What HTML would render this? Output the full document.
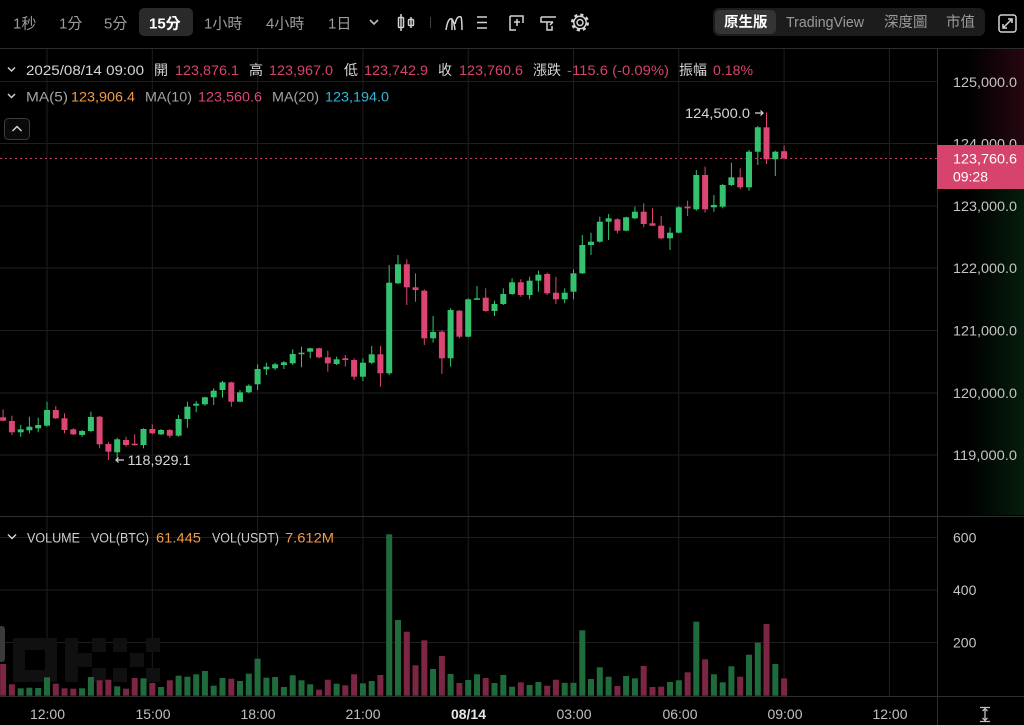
<!DOCTYPE html>
<html><head><meta charset="utf-8"><style>
html,body{margin:0;padding:0;background:#000;width:1024px;height:725px;overflow:hidden}
svg{display:block}
text{font-family:"Liberation Sans","Noto Sans CJK TC",sans-serif}
</style></head><body>
<svg width="1024" height="725" viewBox="0 0 1024 725" xmlns="http://www.w3.org/2000/svg">
<defs>
<linearGradient id="gr" x1="0" y1="0" x2="1" y2="0"><stop offset="0.35" stop-color="#2a0812" stop-opacity="0"/><stop offset="1" stop-color="#2a0812" stop-opacity="0.9"/></linearGradient>
<linearGradient id="gg" x1="0" y1="0" x2="1" y2="0"><stop offset="0.35" stop-color="#06200e" stop-opacity="0"/><stop offset="1" stop-color="#06200e" stop-opacity="0.9"/></linearGradient>
</defs>
<rect width="1024" height="725" fill="#000"/>
<rect x="937" y="49" width="87" height="96" fill="url(#gr)"/>
<rect x="937" y="189" width="87" height="326" fill="url(#gg)"/>

<!-- toolbar -->
<rect x="139" y="8" width="54" height="28" rx="5" fill="#2a2a2a"/>
<g font-size="15" fill="#9c9c9c">
<text x="13" y="28.5">1秒</text>
<text x="59" y="28.5">1分</text>
<text x="104" y="28.5">5分</text>
<text x="149" y="28.5" fill="#fff" font-weight="bold">15分</text>
<text x="204" y="28.5">1小時</text>
<text x="266" y="28.5">4小時</text>
<text x="328" y="28.5">1日</text>
</g>
<path d="M370 20 L374 24 L378 20" stroke="#bbb" stroke-width="1.6" fill="none"/>
<g stroke="#d4d4d4" stroke-width="1.5" fill="none">
<line x1="401" y1="14" x2="401" y2="31"/><rect x="398.5" y="17.5" width="5" height="10" rx="1"/>
<line x1="411" y1="17" x2="411" y2="28"/><rect x="408.5" y="19.5" width="5" height="6" rx="1"/>
<path d="M446 30 Q448 17 452 19 Q454 21 455 30 M455 24 Q457 15 461 17 Q462 20 462 30 M452 19 L452 30"/>
<path d="M477 17 H487 M477 22.5 H487 M477 28 H487"/>
<path d="M510 16 H523 V23 M510 16 V30 H516 M514 22 H520 M517 19 V26"/>
<path d="M541 17 H556 M541 17 V22 H553 M553 22 L550 25 M547 22 V30 H552 V26"/>
<circle cx="580" cy="22.5" r="3"/>
<circle cx="580" cy="22.5" r="7.5" stroke-dasharray="3 2.9" stroke-width="3"/>
<circle cx="580" cy="22.5" r="6.2"/>
</g>
<line x1="430.5" y1="17" x2="430.5" y2="28" stroke="#444"/>
<rect x="713" y="8" width="272" height="28" rx="6" fill="#1c1c1c"/>
<rect x="715" y="10" width="61" height="24" rx="5" fill="#343434"/>
<g font-size="14.5" fill="#9a9a9a">
<text x="724" y="27" fill="#fff" font-weight="bold">原生版</text>
<text x="786" y="27" textLength="78" lengthAdjust="spacingAndGlyphs">TradingView</text>
<text x="884" y="27">深度圖</text>
<text x="946" y="27">市值</text>
</g>
<g stroke="#d4d4d4" stroke-width="1.5" fill="none">
<rect x="999" y="15" width="17" height="17" rx="2.5"/>
<path d="M1003 28 L1012 19 M1008 19 H1012 V23 M1003 24 V28 H1007"/>
</g>
<line x1="0" y1="48.5" x2="1024" y2="48.5" stroke="#2c2c2c"/>

<!-- grid -->
<g stroke="#1f1f1f" stroke-width="1">
<line x1="47" y1="49" x2="47" y2="696"/>
<line x1="152.3" y1="49" x2="152.3" y2="696"/>
<line x1="257.6" y1="49" x2="257.6" y2="696"/>
<line x1="362.9" y1="49" x2="362.9" y2="696"/>
<line x1="468.2" y1="49" x2="468.2" y2="696"/>
<line x1="573.5" y1="49" x2="573.5" y2="696"/>
<line x1="678.8" y1="49" x2="678.8" y2="696"/>
<line x1="784.1" y1="49" x2="784.1" y2="696"/>
<line x1="889.4" y1="49" x2="889.4" y2="696"/>
<line x1="0" y1="81.5" x2="937" y2="81.5"/>
<line x1="0" y1="143.5" x2="937" y2="143.5"/>
<line x1="0" y1="206" x2="937" y2="206"/>
<line x1="0" y1="268" x2="937" y2="268"/>
<line x1="0" y1="330.5" x2="937" y2="330.5"/>
<line x1="0" y1="393" x2="937" y2="393"/>
<line x1="0" y1="455" x2="937" y2="455"/>
<line x1="0" y1="537.5" x2="937" y2="537.5"/>
<line x1="0" y1="590" x2="937" y2="590"/>
<line x1="0" y1="642.5" x2="937" y2="642.5"/>
</g>
<g stroke="#2e2e2e" stroke-width="1">
<line x1="937.5" y1="49" x2="937.5" y2="725"/>
<line x1="0" y1="516.5" x2="1024" y2="516.5"/>
<line x1="0" y1="696.5" x2="1024" y2="696.5"/>
</g>

<!-- watermark -->
<g fill="#101010">
<path d="M13 638 H57 V682 H13 Z M25 650 V670 H45 V650 Z" fill-rule="evenodd"/>
<rect x="65" y="638" width="13" height="44"/><rect x="92" y="638" width="14" height="14"/><rect x="78" y="653" width="14" height="14"/><rect x="92" y="668" width="14" height="14"/>
<rect x="113" y="638" width="14" height="14"/><rect x="146" y="638" width="14" height="14"/><rect x="130" y="653" width="14" height="14"/><rect x="113" y="668" width="14" height="14"/><rect x="146" y="668" width="14" height="14"/>
</g>
<rect x="-5" y="626" width="10" height="36" rx="3" fill="#3a3a3a"/>

<!-- info rows -->
<g stroke="#cfcfcf" stroke-width="1.5" fill="none">
<path d="M8 67.5 L11.5 71 L15 67.5"/>
<path d="M8 94 L11.5 97.5 L15 94"/>
<path d="M8 534.5 L12 538.5 L16 534.5"/>
</g>
<g font-size="14" fill="#d6d6d6" lengthAdjust="spacingAndGlyphs">
<text x="26" y="75" textLength="118" lengthAdjust="spacingAndGlyphs">2025/08/14 09:00</text>
<text x="154" y="75">開</text><text x="175" y="75" fill="#d8436b" textLength="64" lengthAdjust="spacingAndGlyphs">123,876.1</text>
<text x="249" y="75">高</text><text x="269" y="75" fill="#d8436b" textLength="64" lengthAdjust="spacingAndGlyphs">123,967.0</text>
<text x="344" y="75">低</text><text x="364" y="75" fill="#d8436b" textLength="64" lengthAdjust="spacingAndGlyphs">123,742.9</text>
<text x="438" y="75">收</text><text x="459" y="75" fill="#d8436b" textLength="64" lengthAdjust="spacingAndGlyphs">123,760.6</text>
<text x="533" y="75">漲跌</text><text x="567" y="75" fill="#d8436b" textLength="102" lengthAdjust="spacingAndGlyphs">-115.6 (-0.09%)</text>
<text x="679" y="75">振幅</text><text x="713" y="75" fill="#d8436b" textLength="40" lengthAdjust="spacingAndGlyphs">0.18%</text>
</g>
<g font-size="14" fill="#a4a4a4">
<text x="26" y="101.5" textLength="42" lengthAdjust="spacingAndGlyphs">MA(5)</text><text x="71" y="101.5" fill="#f19a48" textLength="64" lengthAdjust="spacingAndGlyphs">123,906.4</text>
<text x="145" y="101.5" textLength="47" lengthAdjust="spacingAndGlyphs">MA(10)</text><text x="198" y="101.5" fill="#e0457a" textLength="64" lengthAdjust="spacingAndGlyphs">123,560.6</text>
<text x="272" y="101.5" textLength="47" lengthAdjust="spacingAndGlyphs">MA(20)</text><text x="325" y="101.5" fill="#33b6d2" textLength="64" lengthAdjust="spacingAndGlyphs">123,194.0</text>
</g>
<rect x="4.5" y="118.5" width="25" height="21" rx="4" fill="#0a0a0a" stroke="#3c3c3c"/>
<path d="M12.5 131 L17 126.5 L21.5 131" stroke="#cfcfcf" stroke-width="1.5" fill="none"/>

<g font-size="13.5" fill="#cfcfcf">
<text x="27" y="542.5" textLength="53" lengthAdjust="spacingAndGlyphs">VOLUME</text>
<text x="91" y="542.5" textLength="58" lengthAdjust="spacingAndGlyphs">VOL(BTC)</text><text x="156" y="542.5" fill="#f19a48" textLength="45" lengthAdjust="spacingAndGlyphs">61.445</text>
<text x="212" y="542.5" textLength="67" lengthAdjust="spacingAndGlyphs">VOL(USDT)</text><text x="285" y="542.5" fill="#f19a48" textLength="49" lengthAdjust="spacingAndGlyphs">7.612M</text>
</g>

<!-- price axis labels -->
<g font-size="14" fill="#c4c4c4">
<text x="953" y="87" textLength="64" lengthAdjust="spacingAndGlyphs">125,000.0</text>
<text x="953" y="148.5" textLength="64" lengthAdjust="spacingAndGlyphs">124,000.0</text>
<text x="953" y="211" textLength="64" lengthAdjust="spacingAndGlyphs">123,000.0</text>
<text x="953" y="273" textLength="64" lengthAdjust="spacingAndGlyphs">122,000.0</text>
<text x="953" y="335.5" textLength="64" lengthAdjust="spacingAndGlyphs">121,000.0</text>
<text x="953" y="398" textLength="64" lengthAdjust="spacingAndGlyphs">120,000.0</text>
<text x="953" y="460" textLength="64" lengthAdjust="spacingAndGlyphs">119,000.0</text>
<text x="953" y="542.5">600</text>
<text x="953" y="595">400</text>
<text x="953" y="647.5">200</text>
</g>

<!-- time axis -->
<g font-size="14" fill="#c0c0c0" text-anchor="middle">
<text x="47.5" y="719">12:00</text>
<text x="153" y="719">15:00</text>
<text x="258" y="719">18:00</text>
<text x="363" y="719">21:00</text>
<text x="468.5" y="719" fill="#e6e6e6" font-weight="bold">08/14</text>
<text x="574" y="719">03:00</text>
<text x="680" y="719">06:00</text>
<text x="785" y="719">09:00</text>
<text x="890" y="719">12:00</text>
</g>
<g stroke="#c0c0c0" stroke-width="1.3" fill="none">
<path d="M980 707.5 H990 M980 721.5 H990 M985 708 V721 M982.5 711 L985 708.5 L987.5 711 M982.5 718 L985 720.5 L987.5 718"/>
</g>

<!-- volume bars -->
<g fill="#1f6b3b">
<rect x="17.7" y="688.3" width="6" height="7.4"/><rect x="26.4" y="687.7" width="6" height="8"/><rect x="35.2" y="688" width="6" height="7.7"/><rect x="44" y="677.3" width="6" height="18.4"/><rect x="79.1" y="688.3" width="6" height="7.4"/><rect x="87.9" y="677" width="6" height="18.7"/><rect x="114.2" y="686.3" width="6" height="9.4"/><rect x="140.5" y="678.3" width="6" height="17.4"/><rect x="158.1" y="687" width="6" height="8.7"/><rect x="175.6" y="675.7" width="6" height="20"/><rect x="184.4" y="676.7" width="6" height="19"/><rect x="193.2" y="674.3" width="6" height="21.4"/><rect x="201.9" y="671" width="6" height="24.7"/><rect x="210.7" y="685.7" width="6" height="10"/><rect x="219.5" y="678" width="6" height="17.7"/><rect x="237" y="681" width="6" height="14.7"/><rect x="245.8" y="673.7" width="6" height="22"/><rect x="254.6" y="658.7" width="6" height="37"/><rect x="263.4" y="677.7" width="6" height="18"/><rect x="272.1" y="677" width="6" height="18.7"/><rect x="280.9" y="687" width="6" height="8.7"/><rect x="289.7" y="675.3" width="6" height="20.4"/><rect x="298.5" y="680.3" width="6" height="15.4"/><rect x="307.2" y="684.3" width="6" height="11.4"/><rect x="333.6" y="683.7" width="6" height="12"/><rect x="359.9" y="683.3" width="6" height="12.4"/><rect x="368.7" y="681" width="6" height="14.7"/><rect x="386.2" y="534.3" width="6" height="161.4"/><rect x="395" y="620" width="6" height="75.7"/><rect x="430.1" y="669" width="6" height="26.7"/><rect x="447.6" y="674" width="6" height="21.7"/><rect x="465.2" y="680" width="6" height="15.7"/><rect x="474" y="674.3" width="6" height="21.4"/><rect x="491.5" y="683" width="6" height="12.7"/><rect x="500.3" y="675" width="6" height="20.7"/><rect x="509.1" y="686.7" width="6" height="9"/><rect x="526.6" y="685" width="6" height="10.7"/><rect x="535.4" y="682" width="6" height="13.7"/><rect x="561.7" y="682.8" width="6" height="12.9"/><rect x="570.5" y="682.8" width="6" height="12.9"/><rect x="579.3" y="630.3" width="6" height="65.4"/><rect x="588" y="679" width="6" height="16.7"/><rect x="596.8" y="667.3" width="6" height="28.4"/><rect x="605.6" y="676.7" width="6" height="19"/><rect x="623.1" y="676" width="6" height="19.7"/><rect x="631.9" y="678.3" width="6" height="17.4"/><rect x="667" y="682" width="6" height="13.7"/><rect x="675.8" y="680.3" width="6" height="15.4"/><rect x="693.3" y="621.7" width="6" height="74"/><rect x="710.9" y="674.3" width="6" height="21.4"/><rect x="719.7" y="682.3" width="6" height="13.4"/><rect x="728.4" y="666.3" width="6" height="29.4"/><rect x="746" y="654.7" width="6" height="41"/><rect x="754.8" y="642.7" width="6" height="53"/><rect x="772.3" y="664" width="6" height="31.7"/>
</g>
<g fill="#7b2643">
<rect x="0.1" y="664" width="6" height="31.7"/><rect x="8.9" y="684.3" width="6" height="11.4"/><rect x="52.8" y="683.7" width="6" height="12"/><rect x="61.5" y="688.3" width="6" height="7.4"/><rect x="70.3" y="688.7" width="6" height="7"/><rect x="96.6" y="680.3" width="6" height="15.4"/><rect x="105.4" y="679.7" width="6" height="16"/><rect x="123" y="688.7" width="6" height="7"/><rect x="131.7" y="678" width="6" height="17.7"/><rect x="149.3" y="683" width="6" height="12.7"/><rect x="166.8" y="680.3" width="6" height="15.4"/><rect x="228.3" y="678.7" width="6" height="17"/><rect x="316" y="689.7" width="6" height="6"/><rect x="324.8" y="679.7" width="6" height="16"/><rect x="342.3" y="685.3" width="6" height="10.4"/><rect x="351.1" y="674.3" width="6" height="21.4"/><rect x="377.4" y="675" width="6" height="20.7"/><rect x="403.8" y="631.7" width="6" height="64"/><rect x="412.5" y="665.3" width="6" height="30.4"/><rect x="421.3" y="640.3" width="6" height="55.4"/><rect x="438.9" y="656" width="6" height="39.7"/><rect x="456.4" y="683" width="6" height="12.7"/><rect x="482.7" y="678" width="6" height="17.7"/><rect x="517.8" y="682.3" width="6" height="13.4"/><rect x="544.2" y="685.7" width="6" height="10"/><rect x="552.9" y="679.7" width="6" height="16"/><rect x="614.4" y="686" width="6" height="9.7"/><rect x="640.7" y="666" width="6" height="29.7"/><rect x="649.5" y="687" width="6" height="8.7"/><rect x="658.2" y="686.7" width="6" height="9"/><rect x="684.6" y="672.3" width="6" height="23.4"/><rect x="702.1" y="659.3" width="6" height="36.4"/><rect x="737.2" y="676.7" width="6" height="19"/><rect x="763.5" y="624" width="6" height="71.7"/><rect x="781.1" y="678.3" width="6" height="17.4"/>
</g>

<line x1="0" y1="158.5" x2="937" y2="158.5" stroke="#c8405f" stroke-width="1" stroke-dasharray="2 3"/>

<!-- candles green -->
<g fill="#34c26f">
<rect x="20.2" y="425" width="1" height="11.7"/><rect x="17.7" y="429.3" width="6" height="3"/>
<rect x="28.9" y="416.7" width="1" height="16.6"/><rect x="26.4" y="426.7" width="6" height="3.6"/>
<rect x="37.7" y="417.7" width="1" height="14.6"/><rect x="35.2" y="425" width="6" height="3.3"/>
<rect x="46.5" y="401.7" width="1" height="25"/><rect x="44" y="410" width="6" height="15.7"/>
<rect x="81.6" y="430" width="1" height="6.7"/><rect x="79.1" y="431" width="6" height="4"/>
<rect x="90.4" y="411.7" width="1" height="20.6"/><rect x="87.9" y="417" width="6" height="14"/>
<rect x="116.7" y="437.7" width="1" height="21.7"/><rect x="114.2" y="439.3" width="6" height="13"/>
<rect x="143" y="428.3" width="1" height="20"/><rect x="140.5" y="429" width="6" height="16"/>
<rect x="160.6" y="429" width="1" height="6"/><rect x="158.1" y="430" width="6" height="4.3"/>
<rect x="178.1" y="415" width="1" height="21.7"/><rect x="175.6" y="419" width="6" height="16.7"/>
<rect x="186.9" y="401.7" width="1" height="26"/><rect x="184.4" y="406.7" width="6" height="12.3"/>
<rect x="195.7" y="401" width="1" height="11.3"/><rect x="193.2" y="403.7" width="6" height="2"/>
<rect x="204.4" y="396.7" width="1" height="9"/><rect x="201.9" y="397.3" width="6" height="7"/>
<rect x="213.2" y="388.3" width="1" height="16.7"/><rect x="210.7" y="390.7" width="6" height="6.6"/>
<rect x="222" y="381" width="1" height="16.7"/><rect x="219.5" y="382.3" width="6" height="7.7"/>
<rect x="239.5" y="390" width="1" height="12.3"/><rect x="237" y="392.3" width="6" height="9.4"/>
<rect x="248.3" y="384.3" width="1" height="9"/><rect x="245.8" y="385.7" width="6" height="6.6"/>
<rect x="257.1" y="364.3" width="1" height="25.7"/><rect x="254.6" y="369" width="6" height="15.3"/>
<rect x="265.9" y="362.7" width="1" height="12.3"/><rect x="263.4" y="366.7" width="6" height="2.6"/>
<rect x="274.6" y="362.7" width="1" height="7.3"/><rect x="272.1" y="364.3" width="6" height="4"/>
<rect x="283.4" y="361" width="1" height="8"/><rect x="280.9" y="362.3" width="6" height="2.7"/>
<rect x="292.2" y="349.3" width="1" height="15.7"/><rect x="289.7" y="354" width="6" height="9.3"/>
<rect x="301" y="346.7" width="1" height="20.6"/><rect x="298.5" y="352.7" width="6" height="1.5"/>
<rect x="309.7" y="347.7" width="1" height="10.6"/><rect x="307.2" y="348.3" width="6" height="3.4"/>
<rect x="336.1" y="356.7" width="1" height="8.3"/><rect x="333.6" y="359.3" width="6" height="4.7"/>
<rect x="362.4" y="358.3" width="1" height="22.7"/><rect x="359.9" y="362.7" width="6" height="14"/>
<rect x="371.2" y="346" width="1" height="18"/><rect x="368.7" y="354.3" width="6" height="8.4"/>
<rect x="388.7" y="265" width="1" height="110"/><rect x="386.2" y="282.7" width="6" height="90.6"/>
<rect x="397.5" y="255" width="1" height="29"/><rect x="395" y="264.3" width="6" height="19"/>
<rect x="432.6" y="316" width="1" height="26.7"/><rect x="430.1" y="332" width="6" height="6.3"/>
<rect x="450.1" y="308.3" width="1" height="58.4"/><rect x="447.6" y="310" width="6" height="48.3"/>
<rect x="467.7" y="298.3" width="1" height="39"/><rect x="465.2" y="299.3" width="6" height="37.4"/>
<rect x="476.5" y="286" width="1" height="14"/><rect x="474" y="298.3" width="6" height="1.5"/>
<rect x="494" y="300.7" width="1" height="15.3"/><rect x="491.5" y="304" width="6" height="7"/>
<rect x="502.8" y="288.3" width="1" height="16.7"/><rect x="500.3" y="294" width="6" height="10"/>
<rect x="511.6" y="278.3" width="1" height="16.7"/><rect x="509.1" y="282.3" width="6" height="11.7"/>
<rect x="529.1" y="276.7" width="1" height="22.6"/><rect x="526.6" y="280.7" width="6" height="14.3"/>
<rect x="537.9" y="270.7" width="1" height="21"/><rect x="535.4" y="274.7" width="6" height="6"/>
<rect x="564.2" y="288.3" width="1" height="15"/><rect x="561.7" y="292.7" width="6" height="6.6"/>
<rect x="573" y="269.3" width="1" height="30"/><rect x="570.5" y="273.3" width="6" height="18.4"/>
<rect x="581.8" y="235" width="1" height="39"/><rect x="579.3" y="245" width="6" height="28.3"/>
<rect x="590.5" y="232.7" width="1" height="22.3"/><rect x="588" y="241.7" width="6" height="3.3"/>
<rect x="599.3" y="216.7" width="1" height="26"/><rect x="596.8" y="221.7" width="6" height="20"/>
<rect x="608.1" y="214" width="1" height="26"/><rect x="605.6" y="218.3" width="6" height="3.4"/>
<rect x="625.6" y="216.7" width="1" height="14.6"/><rect x="623.1" y="217.3" width="6" height="13.4"/>
<rect x="634.4" y="206.7" width="1" height="12.6"/><rect x="631.9" y="211.7" width="6" height="6.6"/>
<rect x="669.5" y="227.3" width="1" height="22.7"/><rect x="667" y="232.7" width="6" height="5.6"/>
<rect x="678.3" y="206" width="1" height="27.3"/><rect x="675.8" y="207.3" width="6" height="25.4"/>
<rect x="695.8" y="170" width="1" height="40.7"/><rect x="693.3" y="175" width="6" height="34.3"/>
<rect x="713.4" y="195" width="1" height="16.7"/><rect x="710.9" y="205" width="6" height="2.3"/>
<rect x="722.2" y="184" width="1" height="24.3"/><rect x="719.7" y="185" width="6" height="21.7"/>
<rect x="730.9" y="162.7" width="1" height="23.3"/><rect x="728.4" y="177.3" width="6" height="7.7"/>
<rect x="748.5" y="150" width="1" height="40.7"/><rect x="746" y="151.7" width="6" height="35.6"/>
<rect x="757.3" y="126" width="1" height="39"/><rect x="754.8" y="127.3" width="6" height="24.4"/>
<rect x="774.8" y="150.7" width="1" height="25.3"/><rect x="772.3" y="151.7" width="6" height="7.6"/>
</g>
<!-- candles red -->
<g fill="#dd4673">
<rect x="2.6" y="409.3" width="1" height="11.7"/><rect x="0.1" y="417.3" width="6" height="3.4"/>
<rect x="11.4" y="415.7" width="1" height="19.3"/><rect x="8.9" y="421" width="6" height="11.3"/>
<rect x="55.3" y="406" width="1" height="13"/><rect x="52.8" y="410" width="6" height="8.3"/>
<rect x="64" y="413.3" width="1" height="20"/><rect x="61.5" y="418.3" width="6" height="11.7"/>
<rect x="72.8" y="428.3" width="1" height="6.7"/><rect x="70.3" y="429.3" width="6" height="5"/>
<rect x="99.1" y="416" width="1" height="32.3"/><rect x="96.6" y="416.7" width="6" height="27.6"/>
<rect x="107.9" y="441.7" width="1" height="18.3"/><rect x="105.4" y="444" width="6" height="7.7"/>
<rect x="125.5" y="436.7" width="1" height="10"/><rect x="123" y="440" width="6" height="5"/>
<rect x="134.2" y="434.3" width="1" height="11.2"/><rect x="131.7" y="443.7" width="6" height="1.5"/>
<rect x="151.8" y="424.3" width="1" height="10"/><rect x="149.3" y="429" width="6" height="4.3"/>
<rect x="169.3" y="429" width="1" height="8.7"/><rect x="166.8" y="430" width="6" height="5.7"/>
<rect x="230.8" y="381.7" width="1" height="25"/><rect x="228.3" y="382.3" width="6" height="19.4"/>
<rect x="318.5" y="347.7" width="1" height="10.6"/><rect x="316" y="348.3" width="6" height="9"/>
<rect x="327.3" y="350.7" width="1" height="21"/><rect x="324.8" y="357.3" width="6" height="6"/>
<rect x="344.8" y="355" width="1" height="11.7"/><rect x="342.3" y="358.3" width="6" height="1.7"/>
<rect x="353.6" y="358.3" width="1" height="21.7"/><rect x="351.1" y="360" width="6" height="16.7"/>
<rect x="379.9" y="346" width="1" height="40.7"/><rect x="377.4" y="354.3" width="6" height="19"/>
<rect x="406.3" y="259.3" width="1" height="45.7"/><rect x="403.8" y="264.3" width="6" height="23"/>
<rect x="415" y="273.3" width="1" height="28.4"/><rect x="412.5" y="287.3" width="6" height="2.7"/>
<rect x="423.8" y="289.3" width="1" height="55.7"/><rect x="421.3" y="290.7" width="6" height="47.6"/>
<rect x="441.4" y="330" width="1" height="44"/><rect x="438.9" y="331.7" width="6" height="26.6"/>
<rect x="458.9" y="310" width="1" height="28.3"/><rect x="456.4" y="310.7" width="6" height="26"/>
<rect x="485.2" y="288.3" width="1" height="23.4"/><rect x="482.7" y="297.7" width="6" height="13.3"/>
<rect x="520.3" y="279.3" width="1" height="17.4"/><rect x="517.8" y="282.3" width="6" height="12.7"/>
<rect x="546.7" y="272.7" width="1" height="22.3"/><rect x="544.2" y="274" width="6" height="19.3"/>
<rect x="555.4" y="276.7" width="1" height="27.3"/><rect x="552.9" y="292.7" width="6" height="6.6"/>
<rect x="616.9" y="218.3" width="1" height="15"/><rect x="614.4" y="219.3" width="6" height="11.4"/>
<rect x="643.2" y="203.3" width="1" height="24"/><rect x="640.7" y="211.7" width="6" height="12.3"/>
<rect x="652" y="208.3" width="1" height="17.7"/><rect x="649.5" y="223.3" width="6" height="2.4"/>
<rect x="660.7" y="216" width="1" height="23.3"/><rect x="658.2" y="225.7" width="6" height="12.6"/>
<rect x="687.1" y="200.7" width="1" height="15.3"/><rect x="684.6" y="206.7" width="6" height="1.6"/>
<rect x="704.6" y="166.7" width="1" height="46"/><rect x="702.1" y="175" width="6" height="34.3"/>
<rect x="739.7" y="168.3" width="1" height="21"/><rect x="737.2" y="177.3" width="6" height="10"/>
<rect x="766" y="112.4" width="1" height="51.6"/><rect x="763.5" y="127.3" width="6" height="32"/>
<rect x="783.6" y="145.6" width="1" height="13.9"/><rect x="781.1" y="151.2" width="6" height="7.2"/>
</g>

<g font-size="14" fill="#d6d6d6">
<text x="685" y="118" textLength="65" lengthAdjust="spacingAndGlyphs">124,500.0</text>
<text x="127.5" y="465" textLength="63" lengthAdjust="spacingAndGlyphs">118,929.1</text>
</g>
<g stroke="#d6d6d6" stroke-width="1.2" fill="none">
<path d="M755 113 H763 M760.5 110.5 L763 113 L760.5 115.5"/>
<path d="M116 460 H124 M118.5 457.5 L116 460 L118.5 462.5"/>
</g>

<rect x="937" y="145" width="87" height="44" fill="#d6436c"/>
<text x="953" y="163.5" font-size="14" fill="#fff" textLength="64" lengthAdjust="spacingAndGlyphs">123,760.6</text>
<text x="953" y="181.5" font-size="14" fill="#fff" textLength="35" lengthAdjust="spacingAndGlyphs">09:28</text>
</svg>
</body></html>
